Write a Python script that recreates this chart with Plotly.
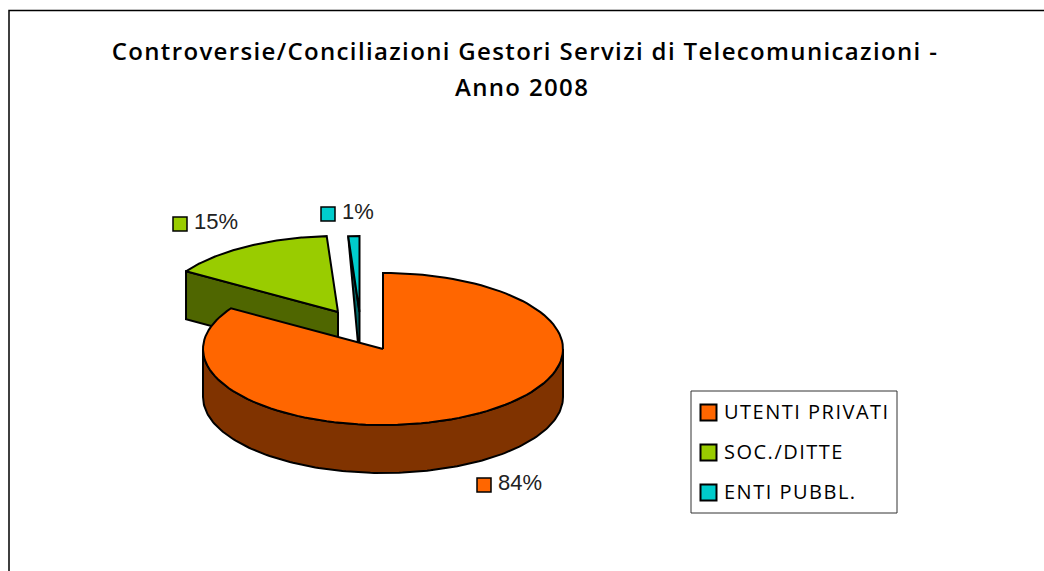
import numpy as np
import plotly.graph_objects as go

# ---- data ----
categories = ["UTENTI PRIVATI", "SOC./DITTE", "ENTI PUBBL."]
values = [84, 15, 1]
labels = ["84%", "15%", "1%"]
title_lines = ["Controversie/Conciliazioni Gestori Servizi di Telecomunicazioni -", "Anno 2008"]

# ---- style / geometry ----
top_colors = ["#FF6600", "#99CC00", "#00CCCC"]
side_colors = ["#803300", "#4F6600", "#006666"]
centers = [(383, 349), (338, 312), (359.5, 312)]
RX, RY, DEPTH = 180, 76, 48
label_markers = [(484, 485), (180, 224), (328, 214)]
legend_rows_y = [412.5, 452.5, 492.5]
OUT = "black"
TITLE_FONT = dict(family="Open Sans", size=24, color="black", weight=600)


def pt(c, a, drop=0):
    return c[0] + RX * np.sin(a), c[1] - RY * np.cos(a) + drop


def top_poly(c, a0, a1):
    a = np.linspace(a0, a1, 120)
    x, y = pt(c, a)
    return [c[0], *x, c[0]], [c[1], *y, c[1]]


fig = go.Figure()


def poly(x, y, color):
    fig.add_trace(go.Scatter(x=list(x), y=list(y), mode="lines", fill="toself", fillcolor=color,
                             line=dict(color=OUT, width=2), showlegend=False, hoverinfo="skip"))


total = sum(values)
edges = np.cumsum([0] + values) / total * 2 * np.pi
a_o0, a_o1 = edges[0], edges[1]
a_g0, a_g1 = edges[1], edges[2]
a_c0, a_c1 = edges[2], edges[3]

# green slice: cut face, then top
c = centers[1]
tx, ty = pt(c, a_g0)
poly([c[0], tx, tx, c[0], c[0]], [c[1], ty, ty + DEPTH, c[1] + DEPTH, c[1]], side_colors[1])
poly(*top_poly(c, a_g0, a_g1), top_colors[1])

# cyan slice: cut face, then top
c = centers[2]
tx, ty = pt(c, a_c0)
poly([c[0], tx, c[0], c[0]], [c[1], ty, c[1] + DEPTH, c[1]], side_colors[2])
poly(*top_poly(c, a_c0, a_c1), top_colors[2])

# orange slice: outer wall, then top
c = centers[0]
a = np.linspace(np.pi / 2, 3 * np.pi / 2, 160)
x, y = pt(c, a)
xb, yb = pt(c, a[::-1], DEPTH)
poly([*x, *xb, x[0]], [*y, *yb, y[0]], side_colors[0])
poly(*top_poly(c, a_o0, a_o1), top_colors[0])

# data labels with keys
for i in range(3):
    mx, my = label_markers[i]
    fig.add_trace(go.Scatter(x=[mx], y=[my], mode="markers",
                             marker=dict(symbol="square", size=14, color=top_colors[i],
                                         line=dict(color=OUT, width=1.5)),
                             showlegend=False, hoverinfo="skip"))
    fig.add_trace(go.Scatter(x=[mx + 14], y=[my - 1], mode="text", text=[labels[i]],
                             textposition="middle right",
                             textfont=dict(family="Liberation Sans", size=22, color="#222222"),
                             showlegend=False, hoverinfo="skip"))

# legend entries, drawn to the reference's tighter layout
for i, cat in enumerate(categories):
    fig.add_trace(go.Scatter(x=[708.5], y=[legend_rows_y[i]], mode="markers",
                             marker=dict(symbol="square", size=16, color=top_colors[i],
                                         line=dict(color=OUT, width=2)),
                             showlegend=False, hoverinfo="skip"))
    fig.add_trace(go.Scatter(x=[724], y=[legend_rows_y[i] + 1], mode="text", text=[cat],
                             textposition="middle right",
                             textfont=dict(family="Open Sans", size=20, color="black"),
                             showlegend=False, hoverinfo="skip"))

fig.update_layout(
    width=1044, height=571, margin=dict(l=0, r=0, t=0, b=0),
    paper_bgcolor="white", plot_bgcolor="white", showlegend=False,
    xaxis=dict(range=[0, 1044], visible=False, fixedrange=True),
    yaxis=dict(range=[571, 0], visible=False, fixedrange=True),
    title=dict(text=title_lines[0], x=525 / 1044, xanchor="center", xref="paper",
               y=1 - 52 / 571, yanchor="middle", font=TITLE_FONT),
    annotations=[dict(text=title_lines[1], x=522, y=86, xref="x", yref="y", showarrow=False,
                      xanchor="center", yanchor="middle", font=TITLE_FONT)],
    shapes=[
        dict(type="rect", xref="x", yref="y", x0=9, y0=10.5, x1=1060, y1=600,
             line=dict(color="black", width=1.5), layer="below"),
        dict(type="rect", xref="x", yref="y", x0=691, y0=391, x1=897, y1=513,
             line=dict(color="#333333", width=1), layer="below"),
    ],
)
names = "[" + ",".join(f'"{c}"' for c in categories) + "]"
post = """
document.body.style.margin='0';document.body.style.overflow='hidden';
document.querySelectorAll('.gtitle, .annotation-text').forEach(t=>t.style.letterSpacing='1.35px');
var cats=%s;
document.querySelectorAll('.textpoint text').forEach(t=>{if(cats.includes(t.textContent))t.style.letterSpacing='1.5px';});
""" % names
fig.write_html("out.html", config={"displayModeBar": False}, post_script=post)
